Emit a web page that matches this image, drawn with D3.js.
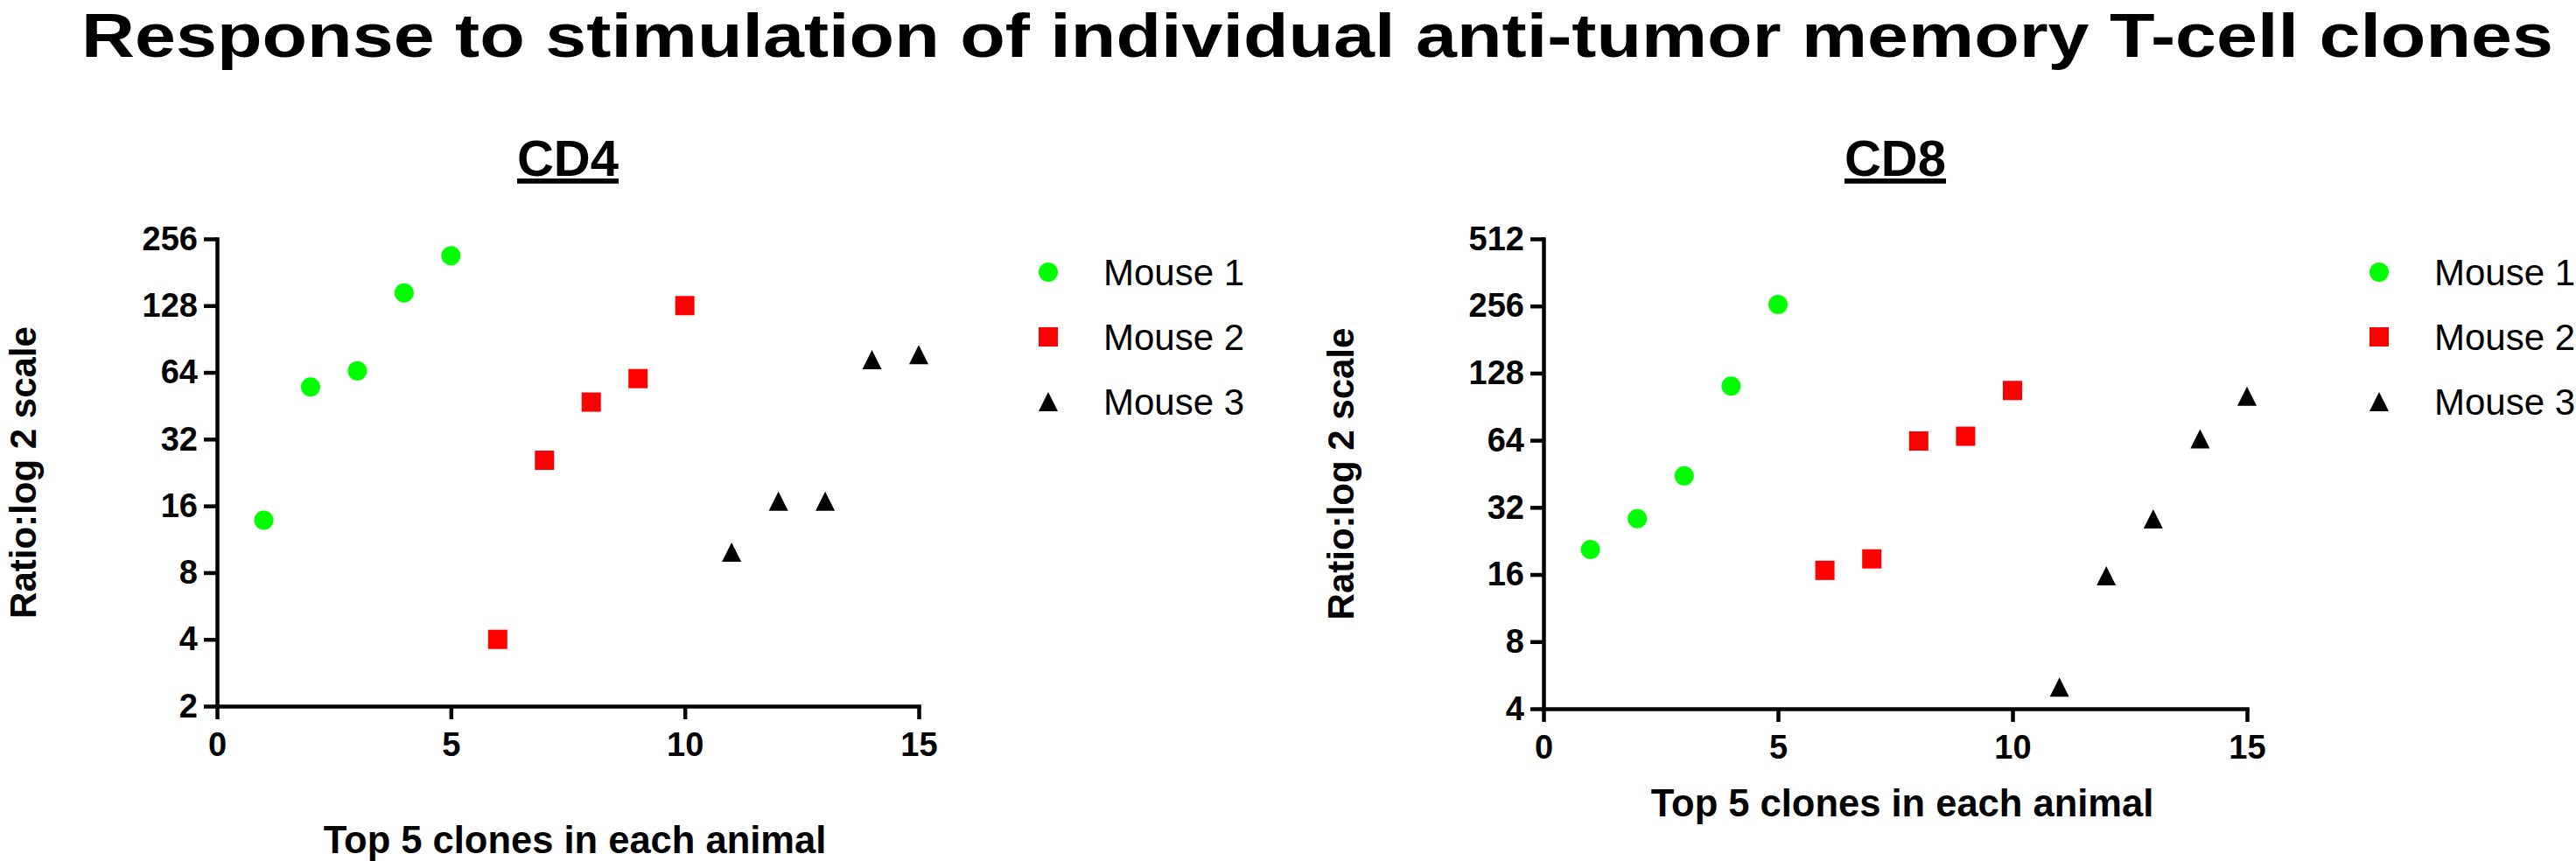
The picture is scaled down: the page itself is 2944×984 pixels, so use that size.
<!DOCTYPE html>
<html>
<head>
<meta charset="utf-8">
<script src="https://cdn.jsdelivr.net/npm/d3@7"></script>
<style>
    body { margin: 0; background: #fff; }
    svg { display: block; font-family: "Liberation Sans", Arial, sans-serif; }
</style>
</head>
<body>
<div id="chart"></div>
<script>
// ---- data ----
const mouseNames = ["Mouse 1", "Mouse 2", "Mouse 3"];
const mouseColors = ["#00ff00", "#ff0000", "#000000"];

const clones1 = [1, 2, 3, 4, 5];
const clones2 = [6, 7, 8, 9, 10];
const clones3 = [11, 12, 13, 14, 15];

const cd4Mouse1 = [13.8, 55, 65, 146, 215];
const cd4Mouse2 = [4, 25.7, 47, 60, 128];
const cd4Mouse3 = [9.9, 16.8, 16.8, 73, 77];

const cd8Mouse1 = [20.7, 28.5, 44.3, 112, 260];
const cd8Mouse2 = [16.7, 18.8, 63.5, 66.7, 107];
const cd8Mouse3 = [5, 15.8, 28.4, 65, 101];

const xTicks = [0, 5, 10, 15];
const cd4YTicks = [2, 4, 8, 16, 32, 64, 128, 256];
const cd8YTicks = [4, 8, 16, 32, 64, 128, 256, 512];

const titleText = "Response to stimulation of individual anti-tumor memory T-cell clones";
const xLabelText = "Top 5 clones in each animal";
const yLabelText = "Ratio:log 2 scale";

// isosceles triangle centred on its bounding box (GraphPad style)
const boxTriangle = {
    draw(context, size) {
        let w = Math.sqrt(size);
        context.moveTo(0, -w / 2);
        context.lineTo(w / 2, w / 2);
        context.lineTo(-w / 2, w / 2);
        context.closePath();
    }
};
const symbolTypes = [d3.symbolCircle, d3.symbolSquare, boxTriangle];
const symbolSizes = [Math.PI * 11 * 11, 22 * 22, 22 * 22];

function buildSeries(a, b, c) {
    return [
        clones1.map((x, i) => ({ x: x, y: a[i], m: 0 })),
        clones2.map((x, i) => ({ x: x, y: b[i], m: 1 })),
        clones3.map((x, i) => ({ x: x, y: c[i], m: 2 }))
    ].flat();
}

const svg = d3.select("#chart").append("svg")
    .attr("width", 2944)
    .attr("height", 984);

svg.append("rect").attr("width", 2944).attr("height", 984).attr("fill", "#fff");

svg.append("text")
    .attr("x", 93)
    .attr("y", 65)
    .attr("font-size", 70)
    .attr("font-weight", "bold")
    .attr("textLength", 2825)
    .attr("lengthAdjust", "spacingAndGlyphs")
    .text(titleText);

class ScatterPanel {
    constructor(_config, data) {
        this.config = _config;
        this.data = data;
        this.initVis();
    }

    initVis() {
        let vis = this;
        let c = vis.config;

        vis.g = svg.append("g");

        vis.xScale = d3.scaleLinear().domain([0, 15]).range(c.xRange);
        vis.yScale = d3.scaleLog().base(2).domain(c.yDomain).range(c.yRange);

        // axes
        let xAxis = d3.axisBottom(vis.xScale)
            .tickValues(xTicks)
            .tickSize(15)
            .tickSizeOuter(0)
            .tickPadding(15);
        let yAxis = d3.axisLeft(vis.yScale)
            .tickValues(c.yTicks)
            .tickFormat(d3.format("d"))
            .tickSize(15)
            .tickSizeOuter(0)
            .tickPadding(7);

        vis.g.append("g")
            .attr("transform", `translate(0,${c.yRange[0]})`)
            .call(xAxis);
        vis.g.append("g")
            .attr("transform", `translate(${c.xRange[0]},0)`)
            .call(yAxis);

        vis.g.selectAll(".domain, .tick line")
            .attr("stroke", "#000")
            .attr("stroke-width", 4.5)
            .attr("stroke-linecap", "square");
        vis.g.selectAll(".tick line").attr("stroke-linecap", "butt");
        vis.g.selectAll(".tick text")
            .attr("fill", "#000")
            .attr("font-size", 38)
            .attr("font-weight", "bold")
            .attr("font-family", "'Liberation Sans', Arial, sans-serif");

        let midX = (c.xRange[0] + c.xRange[1]) / 2;

        // panel title
        vis.g.append("text")
            .attr("x", midX)
            .attr("y", 201)
            .attr("text-anchor", "middle")
            .attr("font-size", 58)
            .attr("font-weight", "bold")
            .style("text-decoration", "underline")
            .text(c.title);

        // axis labels
        vis.g.append("text")
            .attr("x", midX + 8)
            .attr("y", c.xLabelY)
            .attr("text-anchor", "middle")
            .attr("font-size", 43.5)
            .attr("font-weight", "bold")
            .text(xLabelText);

        vis.g.append("text")
            .attr("transform", `translate(${c.yLabelX},${(c.yRange[0] + c.yRange[1]) / 2}) rotate(-90)`)
            .attr("text-anchor", "middle")
            .attr("font-size", 42)
            .attr("font-weight", "bold")
            .text(yLabelText);

        // legend
        let legend = vis.g.selectAll(".legend-item")
            .data(mouseNames)
            .join("g")
            .attr("class", "legend-item")
            .attr("transform", (d, i) => `translate(${c.legendX},${311 + i * 74})`);

        legend.append("path")
            .attr("d", (d, i) => d3.symbol().type(symbolTypes[i]).size(symbolSizes[i])())
            .attr("fill", (d, i) => mouseColors[i]);

        legend.append("text")
            .attr("x", 63)
            .attr("y", 15)
            .attr("font-size", 42)
            .text(d => d);

        vis.renderVis();
    }

    renderVis() {
        let vis = this;

        vis.g.selectAll(".point")
            .data(vis.data)
            .join("path")
            .attr("class", "point")
            .attr("transform", d => `translate(${vis.xScale(d.x)},${vis.yScale(d.y)})`)
            .attr("d", d => d3.symbol().type(symbolTypes[d.m]).size(symbolSizes[d.m])())
            .attr("fill", d => mouseColors[d.m]);
    }
}

new ScatterPanel({
    title: "CD4",
    xRange: [248, 1050],
    yRange: [807, 273],
    yDomain: [2, 256],
    yTicks: cd4YTicks,
    xLabelY: 975,
    yLabelX: 41,
    legendX: 1198
}, buildSeries(cd4Mouse1, cd4Mouse2, cd4Mouse3));

new ScatterPanel({
    title: "CD8",
    xRange: [1764, 2568],
    yRange: [810, 273],
    yDomain: [4, 512],
    yTicks: cd8YTicks,
    xLabelY: 933,
    yLabelX: 1547,
    legendX: 2719
}, buildSeries(cd8Mouse1, cd8Mouse2, cd8Mouse3));
</script>
</body>
</html>
